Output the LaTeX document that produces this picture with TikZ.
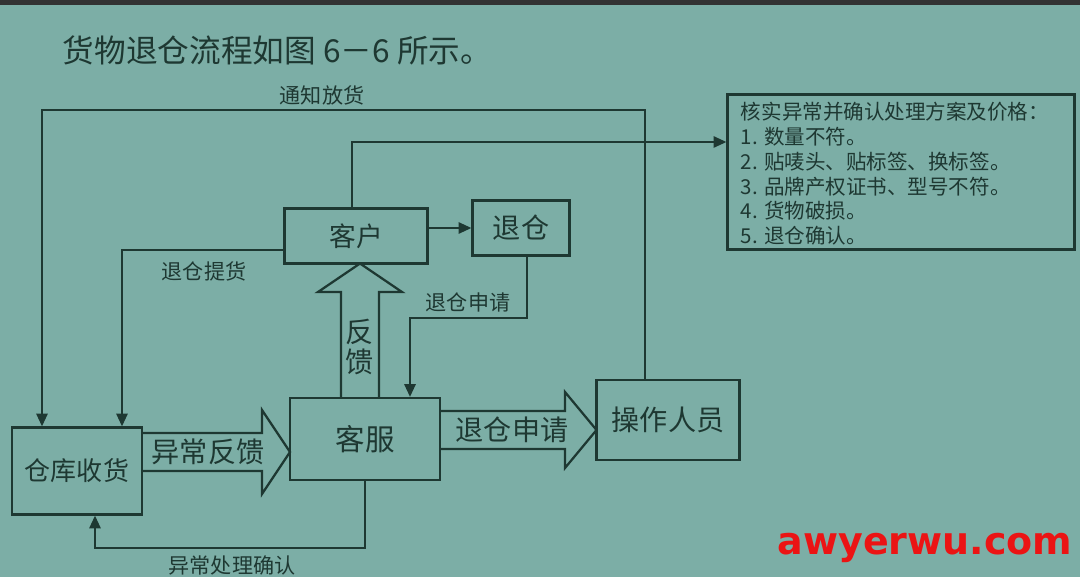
\documentclass[tikz,border=0pt]{standalone}
\usepackage{fontspec}
\setmainfont{Noto Sans CJK SC}
\newfontfamily\wmfont{DejaVu Sans}
\usetikzlibrary{calc,arrows.meta}
\definecolor{bg}{RGB}{124,174,166}
\definecolor{ink}{RGB}{30,56,50}
\definecolor{wmred}{RGB}{235,20,20}
\begin{document}
\begin{tikzpicture}[x=0.025cm,y=-0.025cm,
  box/.style={draw=ink,line width=1.6pt,text=ink,inner sep=0pt,font=\fontsize{20}{22}\selectfont},
  conn/.style={draw=ink,line width=1.3pt},
  arr/.style={conn,-{Triangle[length=9pt,width=8pt]}},
  lbl/.style={text=ink,font=\fontsize{15}{17}\selectfont},
  fat/.style={draw=ink,line width=1.6pt,line join=miter},
  fattext/.style={text=ink,font=\fontsize{20}{22}\selectfont}]
\fill[bg] (0,0) rectangle (1080,577);
\useasboundingbox (0,0) rectangle (1080,577);
\fill[black!80] (0,0) rectangle (1080,5);

\node[text=ink,font=\fontsize{22.5}{24}\selectfont,anchor=west] (title) at (58,50) {货物退仓流程如图 6－6 所示。};

% boxes
\node[box,minimum width=3.25cm,minimum height=2.175cm,font=\fontsize{18.5}{20}\selectfont] (ck) at (77,471) {仓库收货};
\node[box,minimum width=3.75cm,minimum height=2.05cm,font=\fontsize{21}{23}\selectfont] (kf) at (365,439) {客服};
\node[box,minimum width=3.575cm,minimum height=2.0cm] (cz) at (668,420) {操作人员};
\node[box,minimum width=3.575cm,minimum height=1.375cm,font=\fontsize{19}{21}\selectfont] (kh) at (356,236) {客户};
\node[box,minimum width=2.425cm,minimum height=1.375cm] (tc) at (521,228) {退仓};
\node[box,minimum width=8.675cm,minimum height=3.875cm] (hs) at (901,172) {};
\node[text=ink,anchor=north west,align=left,font=\fontsize{14.6}{17.7}\selectfont] (hstext) at (736,97)
  {核实异常并确认处理方案及价格：\\1. 数量不符。\\2. 贴唛头、贴标签、换标签。\\3. 品牌产权证书、型号不符。\\4. 货物破损。\\5. 退仓确认。};

% connectors
\coordinate (n1) at (645,110);
\coordinate (n2) at (42,110);
\draw[arr] (cz.north -| n1) -- (n1) -- (n2) -- (n2 |- ck.north);
\node[lbl] (ltzfh) at (322,95) {通知放货};

\coordinate (h1) at (352,142);
\draw[arr] (kh.north -| h1) -- (h1) -- (h1 -| hs.west);

\coordinate (t1) at (122,250);
\draw[arr] (kh.west |- t1) -- (t1) -- (t1 |- ck.north);
\node[lbl] (ltcth) at (204,271) {退仓提货};

\draw[arr] (tc.west -| kh.east) -- (tc.west);

\coordinate (s1) at (527,318);
\coordinate (s2) at (410,318);
\draw[arr] (tc.south -| s1) -- (s1) -- (s2) -- (s2 |- kf.north);
\node[lbl] (ltcsq) at (468,302) {退仓申请};

\coordinate (y1) at (365,548);
\coordinate (y2) at (95,548);
\draw[arr] (kf.south -| y1) -- (y1) -- (y2) -- (y2 |- ck.south);
\node[lbl] (lyccl) at (232,565) {异常处理确认};

% block arrows
\draw[fat] (341,398) -- (341,292) -- (318,292) -- (360,263.5) -- (402,292) -- (379,292) -- (379,398);
\node[fattext,align=center] (fk) at (360,347) {反\\[-1pt]馈};

\draw[fat] (142,433) -- (262,433) -- (262,410) -- (290,452) -- (262,494) -- (262,471) -- (142,471);
\node[fattext] (ycfk) at (208,452) {异常反馈};

\draw[fat] (440,411) -- (565,411) -- (565,392) -- (596.5,430) -- (565,468) -- (565,449) -- (440,449);
\node[fattext] (tcsq) at (512,430) {退仓申请};

% watermark
\node[text=wmred,font=\wmfont\bfseries\fontsize{27}{30}\selectfont] (wm) at (925,548) {awyerwu.com};
\end{tikzpicture}
\end{document}
